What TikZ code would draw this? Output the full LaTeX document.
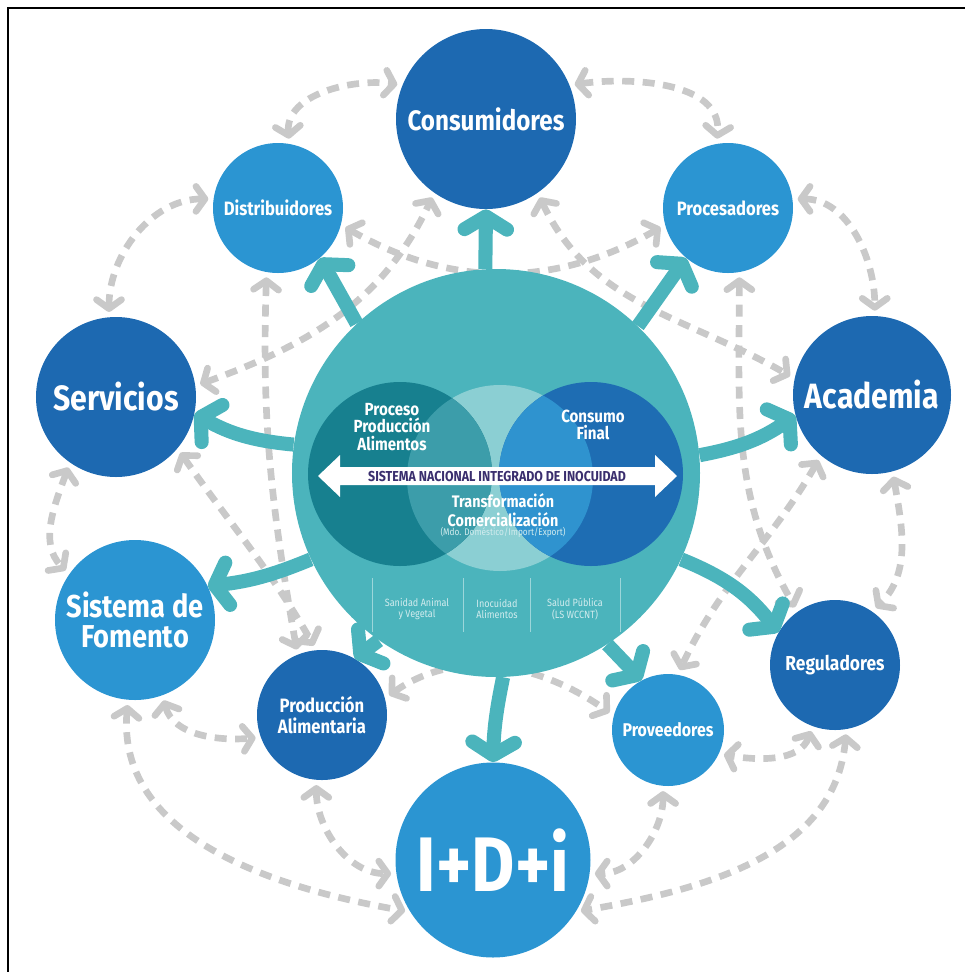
\documentclass[tikz,border=0pt]{standalone}
\usepackage{fontspec}
\setmainfont{Fira Sans}[FakeStretch=0.86]
\usetikzlibrary{arrows.meta,backgrounds}

\definecolor{coreteal}{HTML}{4BB4BC}
\definecolor{deepblue}{HTML}{1D69B1}
\definecolor{skyblue}{HTML}{2B95D2}
\definecolor{darkteal}{HTML}{17808F}
\definecolor{venblue}{HTML}{1E6DB3}
\definecolor{paleteal}{HTML}{8BCFD3}
\definecolor{midteal}{HTML}{3C9DAA}
\definecolor{midblue}{HTML}{2F93CF}
\definecolor{linkgray}{HTML}{C9C9C9}
\definecolor{banner}{HTML}{3A2E6E}

\tikzset{
	actor/.style={circle, fill=#1, text=white, align=center, inner sep=0pt},
	flow/.style={coreteal, line width=8pt, -{Straight Barb[length=2.6mm,width=8.5mm,round]}},
	link/.style={linkgray, line width=3.8pt, dash pattern=on 2.4mm off 1.7mm,
		{Straight Barb[length=1.8mm,width=5mm,round]}-{Straight Barb[length=1.8mm,width=5mm,round]},
		shorten <=1mm, shorten >=1mm},
	venntext/.style={text=white, align=center, font=\bfseries\fontsize{10}{10}\selectfont},
	colnote/.style={text=white!75!coreteal, align=center, font=\fontsize{6}{6.5}\selectfont},
}

\begin{document}
\begin{tikzpicture}[x=0.2mm, y=0.2mm]
				\useasboundingbox (0,0) rectangle (965,-972);
				\draw[line width=1.6pt] (965,-8) -- (8,-8) -- (8,-972);
				
				% actors round the system
				\node[actor=deepblue, minimum size=36mm, font=\bfseries\fontsize{16}{18}\selectfont] (cons) at (486,-119) {Consumidores};
				\node[actor=skyblue, minimum size=26mm, font=\bfseries\fontsize{11}{13}\selectfont] (dist) at (278,-208) {Distribuidores};
				\node[actor=skyblue, minimum size=26mm, font=\bfseries\fontsize{11}{13}\selectfont] (proc) at (728,-208) {Procesadores};
				\node[actor=deepblue, minimum size=32mm, font=\bfseries\fontsize{20}{22}\selectfont] (serv) at (116,-397) {Servicios};
				\node[actor=deepblue, minimum size=31.6mm, font=\bfseries\fontsize{20}{22}\selectfont] (acad) at (872,-395) {Academia};
				\node[actor=skyblue, minimum size=32mm, font=\bfseries\fontsize{18}{17}\selectfont] (fom) at (135,-620) {Sistema de\\Fomento};
				\node[actor=deepblue, minimum size=26mm, font=\bfseries\fontsize{11}{12}\selectfont] (prod) at (322,-715) {Producción\\Alimentaria};
				\node[actor=skyblue, minimum size=22.4mm, font=\bfseries\fontsize{10.5}{12}\selectfont] (prov) at (668,-730) {Proveedores};
				\node[actor=deepblue, minimum size=26mm, font=\bfseries\fontsize{11.5}{13}\selectfont] (regu) at (835,-665) {Reguladores};
				\node[actor=skyblue, minimum size=39mm, font=\bfseries\fontsize{44}{46}\selectfont] (idi) at (493,-860) {I+D+i};
				
				% the system itself
				\node[circle, fill=coreteal, minimum size=81.6mm, inner sep=0pt] (core) at (496,-473) {};
				\fill[paleteal] (500,-478) circle[radius=18.6mm];
				\fill[darkteal] (400,-474) circle[radius=18.4mm];
				\fill[venblue] (591,-474) circle[radius=18.4mm];
				\begin{scope}
					\clip (400,-474) circle[radius=18.4mm];
					\fill[midteal] (500,-478) circle[radius=18.6mm];
				\end{scope}
				\begin{scope}
					\clip (591,-474) circle[radius=18.4mm];
					\fill[midblue] (500,-478) circle[radius=18.6mm];
				\end{scope}
				
				\fill[white] (318,-476) -- (340,-455) -- (340,-467) -- (655,-467) -- (655,-455) -- (677,-476)
					-- (655,-497) -- (655,-485) -- (340,-485) -- (340,-497) -- cycle;
				\node[text=banner, font=\bfseries\fontsize{8.2}{9}\selectfont] (banner) at (497,-476) {SISTEMA NACIONAL INTEGRADO DE INOCUIDAD};
				
				\node[venntext] (proceso) at (392,-427) {Proceso\\Producción\\Alimentos};
				\node[venntext] (consumo) at (593,-425) {Consumo\\Final};
				\node[venntext, font=\bfseries\fontsize{9.5}{10.5}\selectfont] (transf) at (503,-510) {Transformación\\Comercialización};
				\node[colnote, font=\fontsize{5.5}{6}\selectfont] (mercado) at (503,-532) {(Mdo. Doméstico/Import/Export)};
				
				\foreach \xx in {372,463,530,620}
					\draw[white!45!coreteal, line width=0.5pt] (\xx,-578) -- (\xx,-632);
				\node[colnote] (sanidad) at (417,-609) {Sanidad Animal\\y Vegetal};
				\node[colnote] (inocuidad) at (497,-609) {Inocuidad\\Alimentos};
				\node[colnote] (salud) at (575,-609) {Salud Pública\\(LS WCCNT)};
				
				% gray links behind everything
				\begin{scope}[on background layer]
					\draw[link] (dist.80) to[out=95,in=172] (cons.158);
					\draw[link] (cons.22) to[out=8,in=85] (proc.100);
					\draw[link] (dist.172) to[out=180,in=90] (serv.95);
					\draw[link] (proc.8) to[out=0,in=90] (acad.88);
					\draw[link] (serv.235) to[out=250,in=135] (fom.145);
					\draw[link] (acad.-75) to[out=-80,in=45] (regu.55);
					\draw[link] (fom.-95) to[out=-95,in=170] (idi.212);
					\draw[link] (fom.-70) to[out=-75,in=185] (prod.200);
					\draw[link] (prod.-95) to[out=-90,in=180] (idi.188);
					\draw[link] (regu.-80) to[out=-95,in=10] (idi.-32);
					\draw[link] (regu.-110) to[out=-110,in=-10] (prov.-25);
					\draw[link] (prov.-95) to[out=-90,in=0] (idi.-8);
					\draw[link] (prod.15) to[out=35,in=145] (prov.165);
					\draw[link] (dist.-15) to[out=-30,in=210] (proc.195);
					\draw[link] (serv.8) to[out=20,in=-115] (cons.-125);
					\draw[link] (cons.-55) to[out=-65,in=150] (acad.168);
					\draw[link] (dist.-100) to[out=-92,in=100] (prod.112);
					\draw[link] (serv.-40) to[out=-55,in=120] (prod.95);
					\draw[link] (proc.-80) to[out=-90,in=120] (regu.125);
					\draw[link] (acad.-130) to[out=-120,in=65] (prov.80);
				\end{scope}
				
				% flows out of the system
				\draw[flow] (core.93) -- (cons.south);
				\draw[flow] (core.133) -- (dist.-50);
				\draw[flow] (core.46) -- (proc.-130);
				\draw[flow] (core.172) to[bend left=12] (serv.-12);
				\draw[flow] (core.5) to[bend right=12] (acad.-165);
				\draw[flow] (core.205) to[bend left=8] (fom.25);
				\draw[flow] (core.235) -- (prod.60);
				\draw[flow] (core.303) -- (prov.118);
				\draw[flow] (core.335) to[bend left=15] (regu.150);
				\draw[flow] (core.-88) to[bend right=5] (idi.north);
			\end{tikzpicture}
\end{document}
